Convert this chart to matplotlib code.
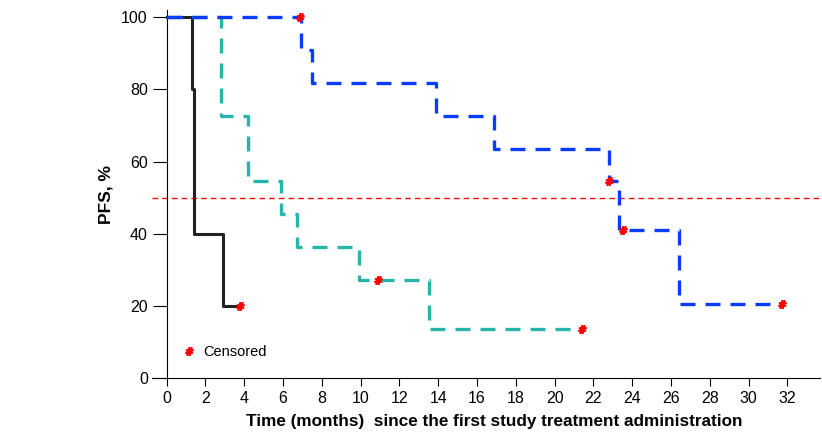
import matplotlib
matplotlib.use('Agg')
import matplotlib.pyplot as plt
from matplotlib.lines import Line2D

plt.rcParams['font.family'] = ['Liberation Sans', 'DejaVu Sans']

# Kaplan-Meier steps
black_t = [0, 1.3, 1.4, 2.9, 3.8]
black_s = [100, 80, 40, 20, 20]
black_cens_t = [3.8]
black_cens_s = [20]

teal_t = [0, 2.8, 4.2, 5.9, 6.7, 9.9, 13.5, 21.4]
teal_s = [100, 72.7, 54.5, 45.5, 36.4, 27.3, 13.6, 13.6]
teal_cens_t = [10.9, 21.4]
teal_cens_s = [27.3, 13.6]

blue_t = [0, 6.95, 7.5, 13.9, 16.9, 22.8, 23.3, 26.4, 31.7]
blue_s = [100, 90.9, 81.8, 72.7, 63.6, 54.5, 40.9, 20.5, 20.5]
blue_cens_t = [6.85, 22.8, 23.55, 31.7]
blue_cens_s = [100, 54.5, 40.9, 20.5]

median_line = 50
xticks = list(range(0, 33, 2))
yticks = [0, 20, 40, 60, 80, 100]

fig = plt.figure(figsize=(8.22, 4.36), dpi=100)
ax = fig.add_axes([0.185, 0.133, 0.813, 0.844])

ax.axhline(median_line, color='red', ls=(0, (4, 3)), lw=1.0, zorder=1)

ax.plot(black_t, black_s, drawstyle='steps-post', color='#222222', lw=2.2, zorder=2)
ax.plot(teal_t, teal_s, drawstyle='steps-post', color='#26b5a8', lw=2.4, dashes=(4.5, 3), zorder=3)
ax.plot(blue_t, blue_s, drawstyle='steps-post', color='#0a3cff', lw=2.4, dashes=(4.5, 3), zorder=4)

cens_t = black_cens_t + teal_cens_t + blue_cens_t
cens_s = black_cens_s + teal_cens_s + blue_cens_s
ax.plot(cens_t, cens_s, ls='none', marker='$\\#$', color='red', ms=5.5, zorder=5)

handle = Line2D([], [], ls='none', marker='$\\#$', color='red', ms=5.5)
ax.legend([handle], ['Censored'], loc='lower left', bbox_to_anchor=(0.02, 0.015),
          frameon=False, fontsize=10.5, handletextpad=0.2, handlelength=1.5)

ax.set_xlim(-0.75, 33.7)
ax.set_ylim(0, 102)
ax.spines['left'].set_position(('data', 0))
ax.spines['top'].set_visible(False)
ax.spines['right'].set_visible(False)
ax.set_xticks(xticks)
ax.set_yticks(yticks)
ax.tick_params(labelsize=11.5)
ax.tick_params(axis='x', length=6)
ax.tick_params(axis='y', length=10)

ax.set_xlabel('Time (months)  since the first study treatment administration',
              fontsize=12.3, fontweight='bold')
ax.xaxis.set_label_coords(0.512, -0.098)
ax.set_ylabel('PFS, %', fontsize=12.5, fontweight='bold')
ax.yaxis.set_label_coords(-0.058, 0.5)

fig.savefig('out.png', dpi=100)
